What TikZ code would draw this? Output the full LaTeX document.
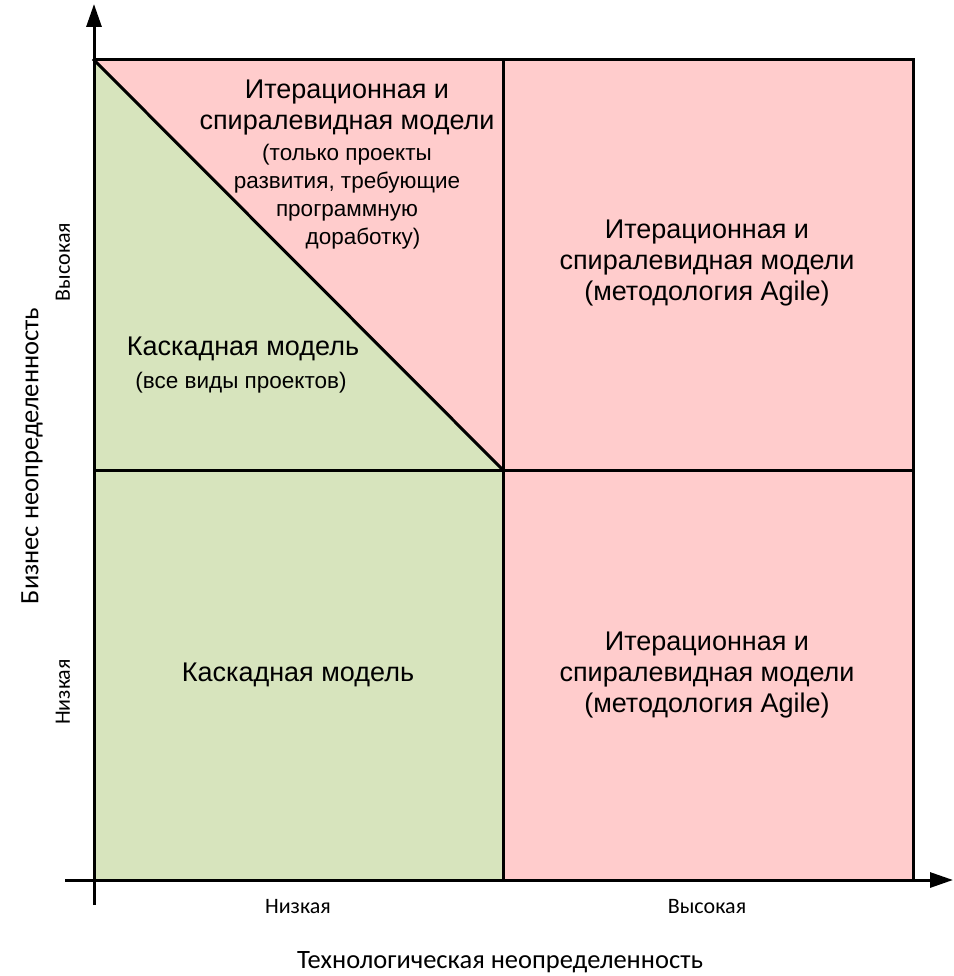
\documentclass[tikz,border=0pt]{standalone}
\usepackage{fontspec}
\setmainfont{Liberation Sans}
\newfontfamily\calibrifont{Carlito}
\usetikzlibrary{arrows.meta}
\definecolor{pinkc}{HTML}{FFCCCC}
\definecolor{greenc}{HTML}{D7E4BD}
\begin{document}
\begin{tikzpicture}[x=1pt,y=-1pt,
  gridline/.style={line width=3pt,line cap=rect},
  axisline/.style={line width=3pt,-{Triangle[width=15pt,length=23pt]}},
  bigtxt/.style={align=center,font=\fontsize{27}{31}\selectfont,inner sep=0pt},
  smalltxt/.style={align=center,font=\fontsize{22.5}{28}\selectfont,inner sep=0pt},
  axtxt/.style={font=\calibrifont\fontsize{22}{26}\selectfont,inner sep=0pt},
  axtitle/.style={font=\calibrifont\fontsize{26.5}{31}\selectfont,inner sep=0pt}]
\useasboundingbox (0,0) rectangle (953,976);
% fills
\fill[greenc] (94,60) -- (503,470) -- (503,880) -- (94,880) -- cycle;
\fill[pinkc] (94,60) -- (503,60) -- (503,470) -- cycle;
\fill[pinkc] (503,60) rectangle (913,880);
% grid
\coordinate (tl) at (94,60);
\coordinate (tr) at (913,60);
\coordinate (bl) at (94,880);
\coordinate (br) at (913,880);
\coordinate (tm) at (503,60);
\coordinate (bm) at (503,880);
\coordinate (ml) at (94,470);
\coordinate (mr) at (913,470);
\coordinate (cc) at (503,470);
\draw[gridline] (tl) -- (tr) -- (br) -- (bl) -- cycle;
\draw[gridline] (tm) -- (bm);
\draw[gridline] (ml) -- (mr);
\draw[gridline] (tl) -- (cc);
% axes
\coordinate (yb) at (94,905);
\coordinate (yt) at (94,4);
\coordinate (xl) at (65,880);
\coordinate (xr) at (953,880);
\draw[axisline] (yb) -- (yt);
\draw[axisline] (xl) -- (xr);
% texts
\node[bigtxt] (t1) at (347,108) {Итерационная и\\спиралевидная модели};
\node[smalltxt] (t2) at (347,197) {(только проекты\\развития, требующие\\программную\\\hspace*{32pt}доработку)};
\node[bigtxt] (t3) at (243,349) {Каскадная модель};
\node[smalltxt] (t4) at (241,383) {(все виды проектов)};
\node[bigtxt] (t5) at (707,263) {Итерационная и\\спиралевидная модели\\(методология Agile)};
\node[bigtxt] (t6) at (707,675) {Итерационная и\\спиралевидная модели\\(методология Agile)};
\node[bigtxt] (t7) at (298,675) {Каскадная модель};
% axis labels
\node[axtxt] (xlow) at (298,907) {Низкая};
\node[axtxt] (xhigh) at (707,907) {Высокая};
\node[axtitle] (xtitle) at (500,962) {Технологическая неопределенность};
\node[axtxt,rotate=90] (yhigh) at (63,262) {Высокая};
\node[axtxt,rotate=90] (ylow) at (63,692) {Низкая};
\node[axtitle,rotate=90] (ytitle) at (32,456) {Бизнес неопределенность};
\end{tikzpicture}
\end{document}
